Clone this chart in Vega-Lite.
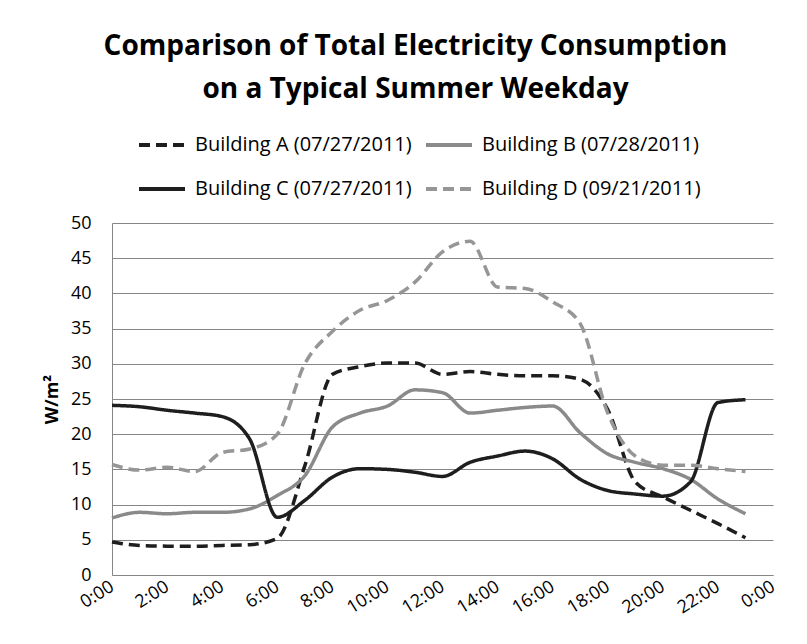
{
  "$schema": "https://vega.github.io/schema/vega-lite/v6.json",
  "autosize": {"type": "none"},
  "width": 661,
  "height": 352,
  "padding": {"left": 112, "top": 223, "right": 34, "bottom": 69},
  "background": "white",
  "config": {
    "view": {"stroke": null},
    "font": "Open Sans"
  },
  "title": {
    "text": ["Comparison of Total Electricity Consumption", "on a Typical Summer Weekday"],
    "font": "Open Sans",
    "fontSize": 28,
    "fontWeight": "bold",
    "color": "#000000",
    "lineHeight": 43,
    "anchor": "middle",
    "frame": "group",
    "dx": -27,
    "dy": -12
  },
  "data": {
    "values": [
      {"hour": 0, "series": "Building A (07/27/2011)", "value": 4.7},
      {"hour": 1, "series": "Building A (07/27/2011)", "value": 4.2},
      {"hour": 2, "series": "Building A (07/27/2011)", "value": 4.1},
      {"hour": 3, "series": "Building A (07/27/2011)", "value": 4.1},
      {"hour": 4, "series": "Building A (07/27/2011)", "value": 4.2},
      {"hour": 5, "series": "Building A (07/27/2011)", "value": 4.3},
      {"hour": 6, "series": "Building A (07/27/2011)", "value": 5.2},
      {"hour": 7, "series": "Building A (07/27/2011)", "value": 15.5},
      {"hour": 8, "series": "Building A (07/27/2011)", "value": 28.5},
      {"hour": 9, "series": "Building A (07/27/2011)", "value": 29.6},
      {"hour": 10, "series": "Building A (07/27/2011)", "value": 30.1},
      {"hour": 11, "series": "Building A (07/27/2011)", "value": 30.1},
      {"hour": 12, "series": "Building A (07/27/2011)", "value": 28.5},
      {"hour": 13, "series": "Building A (07/27/2011)", "value": 28.9},
      {"hour": 14, "series": "Building A (07/27/2011)", "value": 28.5},
      {"hour": 15, "series": "Building A (07/27/2011)", "value": 28.3},
      {"hour": 16, "series": "Building A (07/27/2011)", "value": 28.3},
      {"hour": 17, "series": "Building A (07/27/2011)", "value": 27.8},
      {"hour": 18, "series": "Building A (07/27/2011)", "value": 23.5},
      {"hour": 19, "series": "Building A (07/27/2011)", "value": 13.2},
      {"hour": 20, "series": "Building A (07/27/2011)", "value": 11.1},
      {"hour": 21, "series": "Building A (07/27/2011)", "value": 9.2},
      {"hour": 22, "series": "Building A (07/27/2011)", "value": 7.3},
      {"hour": 23, "series": "Building A (07/27/2011)", "value": 5.3},
      {"hour": 0, "series": "Building B (07/28/2011)", "value": 8.1},
      {"hour": 1, "series": "Building B (07/28/2011)", "value": 8.9},
      {"hour": 2, "series": "Building B (07/28/2011)", "value": 8.7},
      {"hour": 3, "series": "Building B (07/28/2011)", "value": 8.9},
      {"hour": 4, "series": "Building B (07/28/2011)", "value": 8.9},
      {"hour": 5, "series": "Building B (07/28/2011)", "value": 9.4},
      {"hour": 6, "series": "Building B (07/28/2011)", "value": 11.3},
      {"hour": 7, "series": "Building B (07/28/2011)", "value": 14.1},
      {"hour": 8, "series": "Building B (07/28/2011)", "value": 21.0},
      {"hour": 9, "series": "Building B (07/28/2011)", "value": 23.0},
      {"hour": 10, "series": "Building B (07/28/2011)", "value": 24.0},
      {"hour": 11, "series": "Building B (07/28/2011)", "value": 26.3},
      {"hour": 12, "series": "Building B (07/28/2011)", "value": 25.9},
      {"hour": 13, "series": "Building B (07/28/2011)", "value": 23.0},
      {"hour": 14, "series": "Building B (07/28/2011)", "value": 23.4},
      {"hour": 15, "series": "Building B (07/28/2011)", "value": 23.8},
      {"hour": 16, "series": "Building B (07/28/2011)", "value": 24.0},
      {"hour": 17, "series": "Building B (07/28/2011)", "value": 20.2},
      {"hour": 18, "series": "Building B (07/28/2011)", "value": 17.2},
      {"hour": 19, "series": "Building B (07/28/2011)", "value": 16.0},
      {"hour": 20, "series": "Building B (07/28/2011)", "value": 15.1},
      {"hour": 21, "series": "Building B (07/28/2011)", "value": 13.6},
      {"hour": 22, "series": "Building B (07/28/2011)", "value": 10.8},
      {"hour": 23, "series": "Building B (07/28/2011)", "value": 8.7},
      {"hour": 0, "series": "Building C (07/27/2011)", "value": 24.1},
      {"hour": 1, "series": "Building C (07/27/2011)", "value": 23.9},
      {"hour": 2, "series": "Building C (07/27/2011)", "value": 23.4},
      {"hour": 3, "series": "Building C (07/27/2011)", "value": 23.0},
      {"hour": 4, "series": "Building C (07/27/2011)", "value": 22.5},
      {"hour": 5, "series": "Building C (07/27/2011)", "value": 19.3},
      {"hour": 6, "series": "Building C (07/27/2011)", "value": 8.2},
      {"hour": 7, "series": "Building C (07/27/2011)", "value": 10.6},
      {"hour": 8, "series": "Building C (07/27/2011)", "value": 13.9},
      {"hour": 9, "series": "Building C (07/27/2011)", "value": 15.1},
      {"hour": 10, "series": "Building C (07/27/2011)", "value": 15.0},
      {"hour": 11, "series": "Building C (07/27/2011)", "value": 14.6},
      {"hour": 12, "series": "Building C (07/27/2011)", "value": 14.0},
      {"hour": 13, "series": "Building C (07/27/2011)", "value": 16.0},
      {"hour": 14, "series": "Building C (07/27/2011)", "value": 16.9},
      {"hour": 15, "series": "Building C (07/27/2011)", "value": 17.6},
      {"hour": 16, "series": "Building C (07/27/2011)", "value": 16.5},
      {"hour": 17, "series": "Building C (07/27/2011)", "value": 13.6},
      {"hour": 18, "series": "Building C (07/27/2011)", "value": 12.0},
      {"hour": 19, "series": "Building C (07/27/2011)", "value": 11.5},
      {"hour": 20, "series": "Building C (07/27/2011)", "value": 11.2},
      {"hour": 21, "series": "Building C (07/27/2011)", "value": 13.2},
      {"hour": 22, "series": "Building C (07/27/2011)", "value": 24.5},
      {"hour": 23, "series": "Building C (07/27/2011)", "value": 24.9},
      {"hour": 0, "series": "Building D (09/21/2011)", "value": 15.7},
      {"hour": 1, "series": "Building D (09/21/2011)", "value": 14.9},
      {"hour": 2, "series": "Building D (09/21/2011)", "value": 15.3},
      {"hour": 3, "series": "Building D (09/21/2011)", "value": 14.7},
      {"hour": 4, "series": "Building D (09/21/2011)", "value": 17.4},
      {"hour": 5, "series": "Building D (09/21/2011)", "value": 17.9},
      {"hour": 6, "series": "Building D (09/21/2011)", "value": 20.0},
      {"hour": 7, "series": "Building D (09/21/2011)", "value": 30.0},
      {"hour": 8, "series": "Building D (09/21/2011)", "value": 34.6},
      {"hour": 9, "series": "Building D (09/21/2011)", "value": 37.6},
      {"hour": 10, "series": "Building D (09/21/2011)", "value": 39.0},
      {"hour": 11, "series": "Building D (09/21/2011)", "value": 41.6},
      {"hour": 12, "series": "Building D (09/21/2011)", "value": 45.9},
      {"hour": 13, "series": "Building D (09/21/2011)", "value": 47.4},
      {"hour": 14, "series": "Building D (09/21/2011)", "value": 40.9},
      {"hour": 15, "series": "Building D (09/21/2011)", "value": 40.7},
      {"hour": 16, "series": "Building D (09/21/2011)", "value": 38.8},
      {"hour": 17, "series": "Building D (09/21/2011)", "value": 35.7},
      {"hour": 18, "series": "Building D (09/21/2011)", "value": 23.0},
      {"hour": 19, "series": "Building D (09/21/2011)", "value": 16.9},
      {"hour": 20, "series": "Building D (09/21/2011)", "value": 15.6},
      {"hour": 21, "series": "Building D (09/21/2011)", "value": 15.6},
      {"hour": 22, "series": "Building D (09/21/2011)", "value": 15.1},
      {"hour": 23, "series": "Building D (09/21/2011)", "value": 14.7}
    ]
  },
  "mark": {"type": "line", "interpolate": "monotone", "strokeWidth": 3.5},
  "encoding": {
    "x": {
      "field": "hour",
      "type": "quantitative",
      "scale": {"domain": [0, 24], "nice": false, "zero": false},
      "axis": {
        "title": null,
        "values": [0, 2, 4, 6, 8, 10, 12, 14, 16, 18, 20, 22, 24],
        "labelExpr": "(datum.value % 24) + ':00'",
        "labelAngle": -32,
        "labelAlign": "right",
        "labelBaseline": "middle",
        "labelFont": "Open Sans",
        "labelFontSize": 18,
        "labelColor": "#000000",
        "labelPadding": 10,
        "labelOverlap": false,
        "labelBound": false,
        "labelFlush": false,
        "ticks": false,
        "grid": false,
        "domainColor": "#868686",
        "domainWidth": 1
      }
    },
    "y": {
      "field": "value",
      "type": "quantitative",
      "scale": {"domain": [0, 50], "nice": false},
      "axis": {
        "title": "W/m²",
        "titleFont": "Open Sans",
        "titleFontSize": 18,
        "titleFontWeight": "bold",
        "titleColor": "#000000",
        "titlePadding": 9,
        "values": [0, 5, 10, 15, 20, 25, 30, 35, 40, 45, 50],
        "labelFont": "Open Sans",
        "labelFontSize": 18,
        "labelColor": "#000000",
        "labelPadding": 21,
        "ticks": false,
        "grid": true,
        "gridColor": "#868686",
        "gridWidth": 1,
        "domainColor": "#868686",
        "domainWidth": 1
      }
    },
    "color": {
      "field": "series",
      "type": "nominal",
      "scale": {
        "domain": ["Building A (07/27/2011)", "Building B (07/28/2011)", "Building C (07/27/2011)", "Building D (09/21/2011)"],
        "range": ["#1e1e1e", "#8a8a8a", "#1e1e1e", "#969696"]
      },
      "legend": {
        "title": null,
        "orient": "none",
        "legendX": 25,
        "legendY": -103,
        "direction": "horizontal",
        "columns": 2,
        "columnPadding": 6,
        "rowPadding": 9,
        "padding": 0,
        "symbolType": "stroke",
        "symbolSize": 2116,
        "symbolStrokeWidth": 4,
        "labelFont": "Open Sans",
        "labelFontSize": 20,
        "labelColor": "#000000",
        "labelOffset": 8,
        "labelLimit": 400
      }
    },
    "strokeDash": {
      "field": "series",
      "type": "nominal",
      "scale": {
        "domain": ["Building A (07/27/2011)", "Building B (07/28/2011)", "Building C (07/27/2011)", "Building D (09/21/2011)"],
        "range": [[11, 6], [1, 0], [1, 0], [11, 6]]
      },
      "legend": {
        "title": null,
        "orient": "none",
        "legendX": 25,
        "legendY": -103,
        "direction": "horizontal",
        "columns": 2,
        "columnPadding": 6,
        "rowPadding": 9,
        "padding": 0,
        "symbolType": "stroke",
        "symbolSize": 2116,
        "symbolStrokeWidth": 4,
        "labelFont": "Open Sans",
        "labelFontSize": 20,
        "labelColor": "#000000",
        "labelOffset": 8,
        "labelLimit": 400
      }
    }
  }
}
